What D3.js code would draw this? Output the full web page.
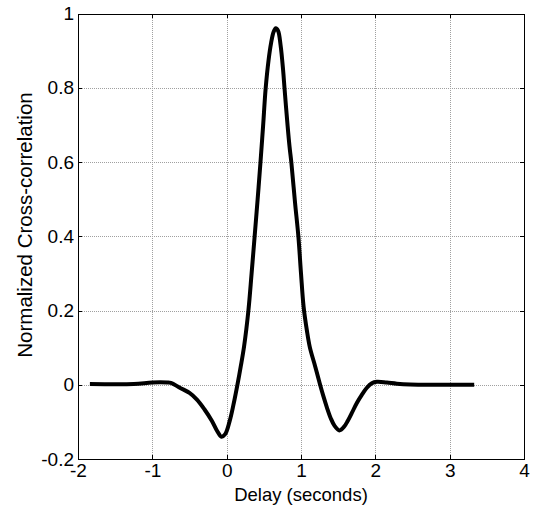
<!DOCTYPE html>
<html lang="en">
<head>
  <meta charset="UTF-8">
  <title>Normalized Cross-correlation</title>
  <script src="https://cdnjs.cloudflare.com/ajax/libs/d3/7.8.5/d3.min.js"></script>
  <style>
    body { margin: 0; background: #fff; }
    text { font-family: "Liberation Sans", Arial, sans-serif; }
    .grid line { stroke: #a0a0a0; stroke-width: 1; stroke-dasharray: 1,1; shape-rendering: crispEdges; }
    .axis path, .axis line { stroke: #000; shape-rendering: crispEdges; }
    .axis text { font-size: 19px; fill: #000; }
    .label { font-size: 18.5px; fill: #000; }
    .line { fill: none; stroke: #000; stroke-width: 4; stroke-linejoin: round; stroke-linecap: butt; }
  </style>
</head>
<body>
  <div id="graph"></div>
  <script>
    // data
    var delaySec = [-1.84, -1.25, -1.0, -0.8, -0.75, -0.63, -0.5, -0.4, -0.3, -0.2, -0.13, -0.07,
                    -0.02, 0.04, 0.09, 0.14, 0.19, 0.234, 0.292, 0.335, 0.376, 0.416, 0.454, 0.49, 0.524, 0.564, 0.598, 0.631, 0.661,
                    0.692, 0.725, 0.759, 0.779, 0.82, 0.846, 0.871, 0.92, 0.965, 1.0, 1.035, 1.08, 1.12, 1.19, 1.257, 1.3, 1.35,
                    1.4, 1.45, 1.517, 1.58, 1.63, 1.684, 1.751, 1.818, 1.886, 1.953, 2.02, 2.155, 2.289, 2.468, 3.33];
    var corrValues = [0.002, 0.002, 0.006, 0.006, 0.005, -0.008, -0.022, -0.04, -0.066, -0.097, -0.124, -0.14,
                      -0.133, -0.098, -0.055, -0.005, 0.05, 0.103, 0.199, 0.299, 0.399, 0.498, 0.597, 0.697, 0.797, 0.875, 0.921, 0.95, 0.96,
                      0.953, 0.915, 0.848, 0.797, 0.697, 0.641, 0.597, 0.49, 0.399, 0.3, 0.21, 0.145, 0.1, 0.05, 0.0, -0.03, -0.062,
                      -0.09, -0.11, -0.123, -0.113, -0.097, -0.076, -0.049, -0.027, -0.008, 0.004, 0.008, 0.006, 0.003, 0.001, 0.0];
    var xTicks = [-2, -1, 0, 1, 2, 3, 4];
    var yTicks = [-0.2, 0, 0.2, 0.4, 0.6, 0.8, 1];

    var W = 536, H = 513;
    var margin = {top: 13.5, right: 12, bottom: 54, left: 78};

    var x = d3.scaleLinear().domain([-2, 4]).range([margin.left, W - margin.right]);
    var y = d3.scaleLinear().domain([-0.2, 1]).range([H - margin.bottom, margin.top]);

    var svg = d3.select("#graph").append("svg")
        .attr("width", W)
        .attr("height", H);

    // grid
    var grid = svg.append("g").attr("class", "grid");
    grid.selectAll(".gx").data(xTicks.slice(1, -1)).enter().append("line")
        .attr("x1", function(d) { return Math.round(x(d)) + 0.5; })
        .attr("x2", function(d) { return Math.round(x(d)) + 0.5; })
        .attr("y1", y(1)).attr("y2", y(-0.2));
    grid.selectAll(".gy").data(yTicks.slice(1, -1)).enter().append("line")
        .attr("y1", function(d) { return Math.round(y(d)) + 0.5; })
        .attr("y2", function(d) { return Math.round(y(d)) + 0.5; })
        .attr("x1", x(-2)).attr("x2", x(4));

    // the curve
    var data = delaySec.map(function(d, i) { return {t: d, v: corrValues[i]}; });
    var valueline = d3.line()
        .x(function(d) { return x(d.t); })
        .y(function(d) { return y(d.v); })
        .curve(d3.curveCatmullRom.alpha(0.5));
    svg.append("path")
        .datum(data)
        .attr("class", "line")
        .attr("d", valueline);

    // axes, ticks pointing inwards like matlab, plain hyphen for minus
    var fmt = function(d) { return String(d); };
    svg.append("g")
        .attr("class", "axis")
        .attr("transform", "translate(0," + y(-0.2) + ")")
        .call(d3.axisBottom(x).tickValues(xTicks).tickFormat(fmt).tickSizeInner(-4).tickSizeOuter(0).tickPadding(5));
    svg.append("g")
        .attr("class", "axis")
        .attr("transform", "translate(" + x(-2) + ",0)")
        .call(d3.axisLeft(y).tickValues(yTicks).tickFormat(fmt).tickSizeInner(-4).tickSizeOuter(0).tickPadding(4));
    svg.append("g")
        .attr("class", "axis")
        .attr("transform", "translate(0," + y(1) + ")")
        .call(d3.axisTop(x).tickValues(xTicks).tickFormat("").tickSizeInner(-4).tickSizeOuter(0));
    svg.append("g")
        .attr("class", "axis")
        .attr("transform", "translate(" + x(4) + ",0)")
        .call(d3.axisRight(y).tickValues(yTicks).tickFormat("").tickSizeInner(-4).tickSizeOuter(0));

    // labels
    svg.append("text")
        .attr("class", "label")
        .attr("x", (x(-2) + x(4)) / 2)
        .attr("y", 501)
        .attr("text-anchor", "middle")
        .text("Delay (seconds)");
    svg.append("text")
        .attr("class", "label")
        .attr("transform", "translate(32,225) rotate(-90)")
        .attr("text-anchor", "middle")
        .style("font-size", "20.5px")
        .text("Normalized Cross-correlation");
  </script>
</body>
</html>
